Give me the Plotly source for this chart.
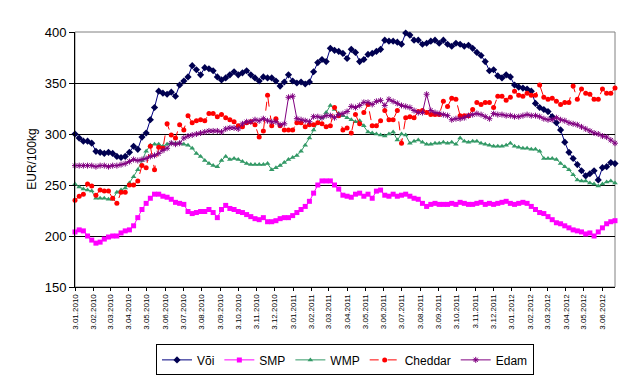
import pandas as pd
import plotly.graph_objects as go

# Weekly observation dates (Sundays) from 3.01.2010 to 24.06.2012
dates = pd.date_range("2010-01-03", periods=130, freq="7D")

# Monthly tick positions (3rd of each month) and labels
tick_dates = pd.date_range("2010-01-01", "2012-06-01", freq="MS") + pd.Timedelta(days=2)
tick_labels = [f"3.{d.month:02d}.{d.year}" for d in tick_dates]

voi = [300, 296, 293, 293, 291, 283, 282, 281, 282, 281, 278, 277, 278, 282, 288, 285, 297, 301, 314, 326,
       342, 340, 339, 341, 337, 348, 352, 356, 367, 363, 358, 365, 364, 362, 356, 353, 355, 358, 361, 358,
       360, 362, 358, 355, 352, 356, 355, 355, 352, 347, 351, 358, 352, 350, 351, 349, 351, 361, 370, 373,
       371, 384, 382, 381, 379, 374, 383, 380, 371, 373, 378, 379, 381, 383, 392, 391, 391, 390, 388, 399,
       397, 392, 392, 388, 389, 391, 392, 389, 392, 388, 386, 389, 388, 386, 387, 384, 380, 377, 371, 362,
       363, 357, 355, 358, 356, 348, 346, 345, 344, 342, 330, 326, 324, 322, 317, 311, 304, 292, 282, 276,
       270, 264, 259, 261, 264, 255, 267, 268, 272, 271]

smp = [204, 206, 205, 200, 196, 193, 194, 197, 199, 200, 200, 203, 205, 206, 210, 218, 226, 232, 237, 241,
       241, 239, 238, 236, 233, 232, 231, 224, 222, 223, 224, 224, 226, 223, 218, 226, 230, 227, 226, 224,
       223, 221, 219, 217, 216, 218, 214, 214, 215, 217, 218, 218, 220, 223, 226, 229, 234, 242, 250, 254,
       254, 254, 250, 246, 240, 239, 238, 241, 242, 239, 241, 237, 244, 245, 240, 239, 241, 239, 240, 241,
       239, 237, 236, 232, 229, 231, 232, 231, 231, 231, 232, 231, 233, 232, 231, 231, 232, 233, 231, 232,
       231, 232, 233, 234, 232, 231, 232, 233, 232, 229, 226, 223, 222, 219, 216, 213, 212, 210, 208, 206,
       205, 204, 202, 203, 200, 204, 208, 212, 214, 215]

wmp = [251, 248, 246, 245, 244, 237, 237, 237, 236, 236, 243, 245, 247, 252, 258, 265, 274, 283, 289, 290,
       290, 288, 290, 291, 291, 291, 290, 289, 286, 281, 278, 274, 271, 269, 268, 274, 278, 275, 276, 275,
       273, 271, 270, 270, 270, 270, 271, 265, 267, 269, 272, 275, 277, 279, 283, 289, 296, 304, 311, 316,
       321, 328, 324, 320, 318, 316, 314, 312, 313, 308, 302, 301, 300, 299, 298, 300, 302, 294, 300, 299,
       291, 293, 294, 292, 290, 290, 291, 291, 292, 291, 292, 290, 296, 293, 292, 293, 293, 291, 290, 289,
       288, 288, 288, 289, 291, 288, 287, 286, 286, 285, 285, 283, 276, 276, 276, 275, 271, 268, 265, 260,
       255, 254, 254, 252, 251, 249, 251, 253, 254, 252]

cheddar = [235, 239, 241, 251, 249, 240, 245, 244, 244, 237, 232, 243, 243, 250, 250, 254, 269, 267, 288, 265,
           287, 286, 310, 299, 296, 309, 304, 318, 311, 313, 314, 313, 320, 320, 317, 319, 316, 314, 312, 308,
           307, 311, 312, 309, 297, 303, 338, 308, 315, 308, 304, 304, 304, 311, 311, 307, 309, 309, 311, 310,
           307, 308, 326, 318, 304, 306, 301, 319, 310, 321, 329, 308, 308, 313, 323, 314, 314, 323, 291, 316,
           317, 316, 322, 323, 321, 319, 319, 319, 332, 327, 335, 334, 318, 318, 318, 324, 331, 329, 331, 331,
           326, 337, 337, 333, 336, 342, 338, 337, 340, 338, 338, 348, 336, 334, 335, 332, 329, 331, 331, 347,
           334, 344, 340, 339, 334, 334, 344, 340, 340, 345]

edam = [269, 269, 269, 269, 269, 268, 269, 269, 268, 269, 269, 270, 271, 273, 275, 274, 275, 276, 278, 279,
        281, 284, 286, 291, 290, 291, 296, 298, 299, 300, 301, 302, 303, 303, 303, 302, 305, 306, 306, 305,
        310, 312, 312, 314, 313, 315, 313, 312, 312, 309, 310, 336, 337, 315, 314, 313, 312, 317, 317, 316,
        318, 318, 316, 319, 320, 322, 327, 326, 328, 331, 331, 329, 332, 333, 328, 334, 332, 330, 328, 327,
        326, 323, 321, 321, 339, 323, 321, 320, 319, 318, 314, 315, 315, 316, 318, 319, 320, 319, 317, 315,
        320, 319, 319, 318, 318, 317, 317, 318, 319, 318, 318, 317, 315, 314, 314, 316, 314, 313, 311, 310,
        309, 307, 305, 303, 301, 300, 298, 297, 294, 291]

FONT = "Liberation Sans, Arial, sans-serif"

fig = go.Figure()
fig.add_trace(go.Scatter(x=dates, y=voi, name="Või", mode="lines+markers",
                         line=dict(color="#000080", width=1),
                         marker=dict(symbol="diamond", size=5.5, color="#000050"),
                         cliponaxis=False))
fig.add_trace(go.Scatter(x=dates, y=smp, name="SMP", mode="lines+markers",
                         line=dict(color="#FF00FF", width=1),
                         marker=dict(symbol="square", size=5, color="#FF00FF"),
                         cliponaxis=False))
fig.add_trace(go.Scatter(x=dates, y=wmp, name="WMP", mode="lines+markers",
                         line=dict(color="#339966", width=1),
                         marker=dict(symbol="triangle-up", size=5, color="#339966"),
                         cliponaxis=False))
fig.add_trace(go.Scatter(x=dates, y=cheddar, name="Cheddar", mode="lines+markers",
                         line=dict(color="#FF0000", width=1, dash="dash"),
                         marker=dict(symbol="circle", size=5, color="#FF0000"),
                         cliponaxis=False))
fig.add_trace(go.Scatter(x=dates, y=edam, name="Edam", mode="lines+markers",
                         line=dict(color="#800080", width=1),
                         marker=dict(symbol="asterisk-open", size=5, color="#800080",
                                     line=dict(color="#800080", width=1)),
                         cliponaxis=False))

fig.update_layout(
    width=640, height=386,
    margin=dict(l=67, r=33, t=24, b=107),
    paper_bgcolor="white", plot_bgcolor="white",
    font=dict(family=FONT, color="black"),
    showlegend=True,
    legend=dict(orientation="h", x=0.5, xanchor="center", y=-0.225, yanchor="top",
                bordercolor="black", borderwidth=1, font=dict(size=12, family=FONT),
                itemwidth=30, tracegroupgap=0),
    shapes=[dict(type="rect", xref="paper", yref="paper", x0=0, x1=1, y0=0, y1=1,
                 line=dict(color="#808080", width=1), layer="below")],
    annotations=[dict(text="EUR/100kg", xref="paper", yref="paper", x=-0.081, y=0.5,
                      xanchor="center", yanchor="middle", textangle=-90, showarrow=False,
                      font=dict(size=12, family=FONT))],
)

fig.update_xaxes(
    type="date", range=[dates[0], dates[-1]],
    tickvals=tick_dates, ticktext=tick_labels, tickangle=-90,
    tickfont=dict(size=8, family=FONT),
    showgrid=False, showline=True, linecolor="black", linewidth=1,
    ticks="outside", ticklen=3, tickcolor="black",
)
fig.update_yaxes(
    range=[150, 400], dtick=50, tickfont=dict(size=13, family=FONT),
    showgrid=True, gridcolor="black", gridwidth=1,
    showline=True, linecolor="black", linewidth=1,
    ticks="outside", ticklen=5, tickcolor="black", zeroline=False,
)

fig.write_html("out.html")
